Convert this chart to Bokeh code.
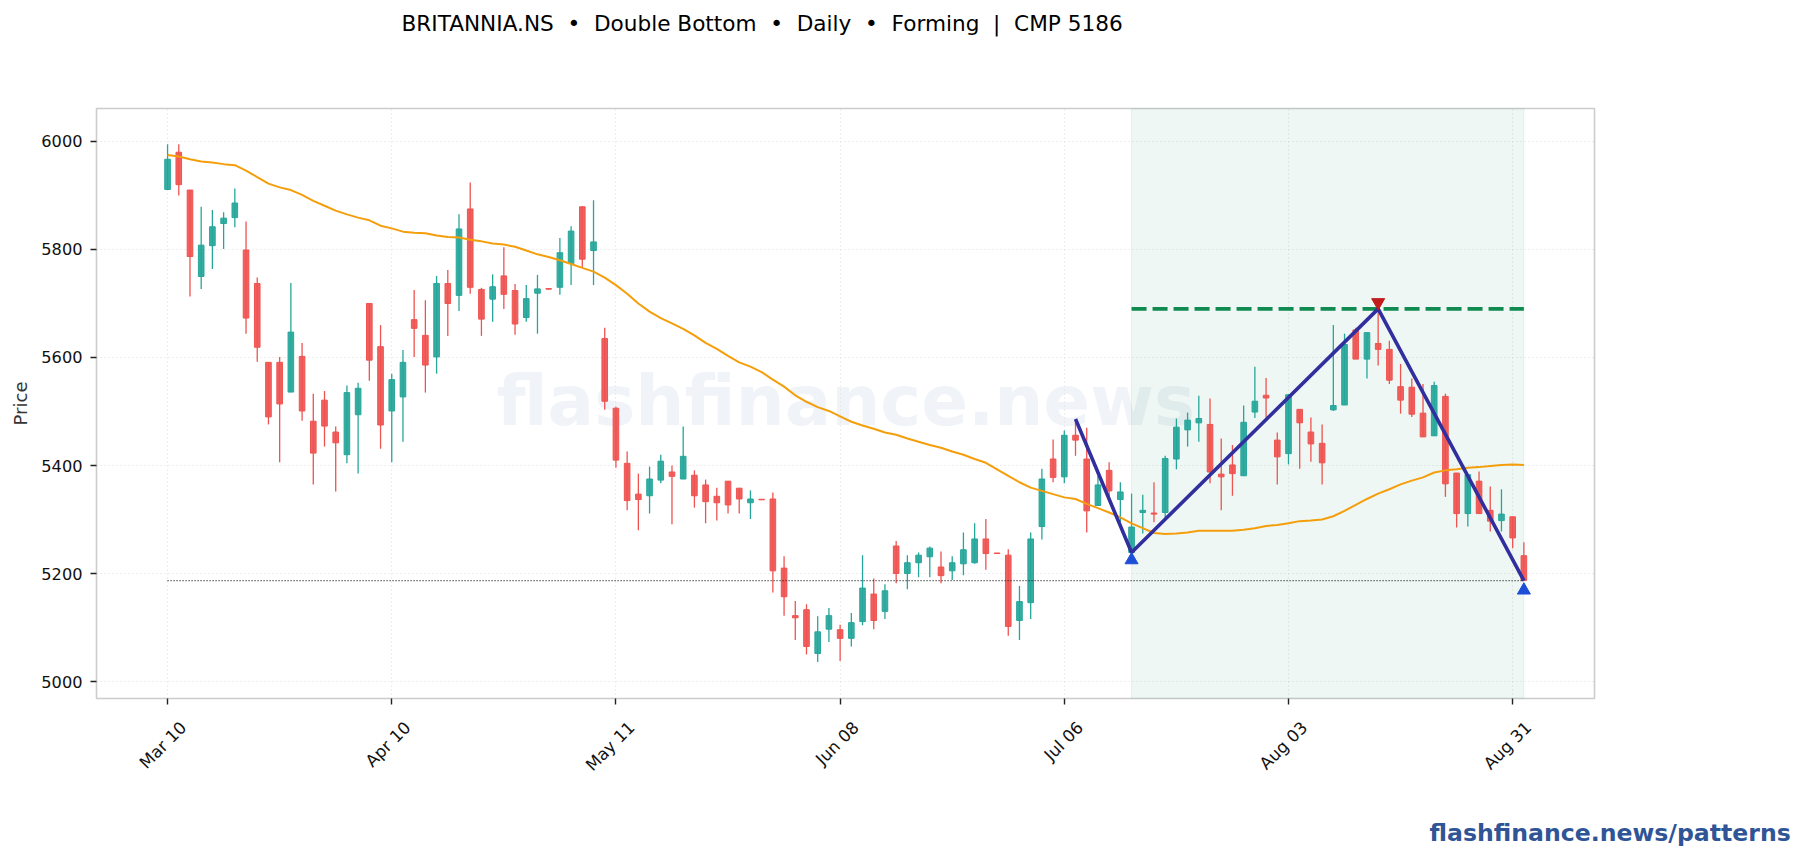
from math import pi
from bokeh.plotting import figure
from bokeh.embed import file_html
from bokeh.resources import INLINE
from bokeh.models import ColumnDataSource, Title, FixedTicker, BoxAnnotation, LinearAxis
from bokeh.core.properties import value

title_text = "BRITANNIA.NS \u00a0\u2022\u00a0 Double Bottom \u00a0\u2022\u00a0 Daily \u00a0\u2022\u00a0 Forming \u00a0|\u00a0 CMP 5186"
footer_text = "flashfinance.news/patterns"
watermark_text = "flashfinance.news"

tick_idx = [0, 20, 40, 60, 80, 100, 120]
tick_labels = ["Mar 10", "Apr 10", "May 11", "Jun 08", "Jul 06", "Aug 03", "Aug 31"]
y_ticks = [5000, 5200, 5400, 5600, 5800, 6000]

opens = [5911,5980,5910,5750,5807,5848,5859,5799,5737,5591,
5591,5536,5602,5482,5521,5462,5420,5494,5700,5620,
5501,5527,5670,5641,5601,5737,5715,5875,5726,5708,
5751,5724,5674,5719,5727.5,5730,5774,5879,5798,5635,
5506,5404,5347,5344,5373,5388,5375,5382,5364,5343,
5371,5358,5331,5337.5,5338,5210,5122,5133,5052,5097,
5096,5080,5111,5162,5130,5251,5200,5220,5231,5212,
5205,5218,5220,5264,5238,5234,5113,5146,5287,5412,
5379,5456,5412,5326,5391,5337,5239,5313,5312,5313,
5412,5466,5479,5476,5384,5401,5381,5499,5530,5447,
5422,5504,5462,5441,5503,5512,5651,5597,5626,5615,
5546,5545,5497,5455,5528,5386,5311,5371,5317,5298,
5305,5233]
closes = [5967,5920,5787,5808,5842,5858,5886,5673,5619,5490,
5514,5647,5501,5423,5473,5442,5535,5543,5595,5475,
5559,5591,5654,5586,5737,5700,5838,5730,5671,5731,
5717,5662,5709,5727,5726.5,5794,5834,5782,5814,5519,
5410,5335,5337,5375,5408,5380,5417,5344,5333,5331,
5327,5338,5338,5336.5,5205,5157,5118,5065,5092,5122,
5080,5109,5173,5113,5168,5200,5220,5234,5247,5196,
5220,5244,5264,5237,5237,5102,5148,5264,5375,5378,
5456,5447,5316,5364,5353,5351,5286,5317,5310,5413,
5471,5484,5487,5388,5379,5385,5480,5519,5525,5416,
5531,5479,5440,5405,5511,5624,5597,5646,5615,5558,
5521,5495,5453,5548,5366,5311,5383,5311,5297,5310,
5266,5187]
highs = [5995,5995,5910,5879,5873,5869,5913,5852,5748,5591,
5601,5738,5627,5533,5538,5472,5548,5553,5700,5660,
5570,5614,5725,5706,5751,5762,5865,5924,5729,5754,
5804,5736,5734,5753,5727.5,5821,5843,5880,5891,5655,
5509,5426,5385,5398,5420,5400,5472,5391,5374,5359,
5371,5358,5354,5337.5,5350,5232,5149,5143,5121,5136,
5105,5127,5234,5191,5180,5260,5234,5239,5250,5241,
5232,5276,5293,5301,5238,5245,5177,5276,5394,5448,
5465,5485,5470,5381,5406,5369,5348,5346,5369,5418,
5487,5498,5529,5524,5450,5438,5511,5583,5562,5461,
5532,5504,5489,5476,5660,5644,5655,5646,5692,5631,
5588,5561,5551,5555,5533,5386,5383,5389,5361,5356,
5305,5258]
lows = [5911,5900,5713,5727,5764,5801,5841,5644,5592,5476,
5406,5536,5483,5365,5435,5352,5404,5385,5557,5431,
5406,5444,5601,5535,5570,5640,5686,5718,5640,5666,
5690,5642,5666,5644,5726.5,5716,5734,5767,5734,5503,
5396,5317,5280,5311,5367,5291,5375,5322,5293,5298,
5311,5311,5301,5336.5,5165,5122,5077,5050,5036,5073,
5038,5065,5104,5097,5116,5182,5171,5193,5193,5182,
5188,5197,5218,5207,5237,5085,5077,5116,5263,5369,
5367,5418,5276,5326,5338,5295,5239,5274,5295,5302,
5393,5435,5444,5367,5317,5344,5381,5488,5489,5365,
5402,5394,5407,5365,5501,5512,5597,5561,5585,5551,
5496,5490,5453,5455,5342,5285,5287,5311,5278,5278,
5247,5187]
sma = [5975,5972,5967,5963,5961,5958,5956,5946,5934,5922,
5915,5910,5901,5890,5881,5872,5865,5859,5854,5844,
5839,5833,5831,5830,5826,5823,5822,5818,5815,5811,
5809,5805,5798,5791,5786,5780,5773,5766,5759,5748,
5734,5718,5700,5685,5673,5663,5653,5641,5627,5616,
5603,5591,5583,5573,5559,5546,5530,5518,5508,5501,
5491,5481,5474,5468,5461,5457,5450,5444,5438,5433,
5426,5420,5412,5405,5393,5381,5369,5359,5353,5347,
5341,5338,5329,5321,5313,5304,5293,5284,5275,5273,
5274,5276,5279,5279,5279,5279,5281,5284,5288,5290,
5293,5297,5298,5300,5306,5316,5327,5338,5348,5356,
5365,5372,5378,5387,5391,5393,5396,5397,5399,5401,
5402,5401]

pattern_idx = [81, 86, 108, 121]
pattern_price = [5486, 5239, 5690, 5187]
neckline = 5690
cmp_price = 5187
zone_start, zone_end = 86, 121
low_marker_idx = [86, 121]
low_marker_price = [5225, 5169]
top_marker_idx = [108]
top_marker_price = [5702]

idx = list(range(len(opens)))
UP, DOWN = "#26a69a", "#ef5350"
cols = [UP if c >= o else DOWN for o, c in zip(opens, closes)]
src = ColumnDataSource(dict(x=idx, o=opens, c=closes, h=highs, l=lows, col=cols))

p = figure(width=1804, height=860, output_backend="svg", toolbar_location=None,
           x_range=(-6.34, 127.3), y_range=(4968.6, 6061),
           min_border_left=96, min_border_right=210, min_border_top=108, min_border_bottom=162,
           frame_width=1498, frame_height=590, background_fill_color="white",
           border_fill_color="white")

p.outline_line_color = "#cccccc"
p.outline_line_width = 1.6

for ax in (p.xaxis[0], p.yaxis[0]):
    ax.axis_line_color = None
    ax.major_tick_line_color = "#222222"
    ax.major_tick_line_width = 1.4
    ax.major_tick_out = 6
    ax.major_tick_in = 0
    ax.minor_tick_line_color = None
    ax.major_label_text_font = "DejaVu Sans"
    ax.major_label_text_font_size = "16.2px"
    ax.major_label_text_color = "#111111"

p.xaxis[0].ticker = FixedTicker(ticks=tick_idx)
p.xaxis[0].major_label_text_font_size = "0px"
p.xaxis[0].major_label_text_color = None
p.yaxis[0].ticker = FixedTicker(ticks=y_ticks)
p.yaxis[0].major_label_standoff = 8
p.yaxis[0].axis_label = "Price"
p.yaxis[0].axis_label_text_font = "DejaVu Sans"
p.yaxis[0].axis_label_text_font_size = "18px"
p.yaxis[0].axis_label_text_font_style = "normal"
p.yaxis[0].axis_label_text_color = "#333333"
p.yaxis[0].axis_label_standoff = 7

# second lower axis carries the date labels, shifted so the rotated text centres under each tick
LABEL_SHIFT = 1.4
label_ticks = [t + LABEL_SHIFT for t in tick_idx]
date_axis = LinearAxis(ticker=FixedTicker(ticks=label_ticks),
                       major_label_overrides={t: s for t, s in zip(label_ticks, tick_labels)},
                       major_label_orientation=pi / 4, major_label_standoff=14,
                       major_tick_line_color=None, minor_tick_line_color=None, axis_line_color=None,
                       major_label_text_font="DejaVu Sans", major_label_text_font_size="16.7px",
                       major_label_text_color="#111111")
p.add_layout(date_axis, "below")

for g in (p.xgrid[0], p.ygrid[0]):
    g.grid_line_color = "#dddddd"
    g.grid_line_width = 1
    g.grid_line_dash = "1 3"
p.xgrid[0].ticker = FixedTicker(ticks=tick_idx)
p.ygrid[0].ticker = FixedTicker(ticks=y_ticks)

# shaded pattern zone
p.add_layout(BoxAnnotation(left=zone_start, right=zone_end, fill_color="#0f8a50", fill_alpha=0.07,
                           line_color="#0f8a50", line_alpha=0.08, line_width=1, level="underlay"))

# watermark
p.text(x=[60.5], y=[5520], text=[watermark_text], text_font=value("DejaVu Sans"),
       text_font_style="bold", text_font_size="69px", text_color="#2f5597", text_alpha=0.07,
       text_align="center", text_baseline="middle", level="underlay")

# candles
p.segment("x", "h", "x", "l", source=src, line_color="col", line_width=1.3)
p.vbar("x", 0.5, "o", "c", source=src, fill_color="col", line_color="col", fill_alpha=0.92, line_width=1)

# moving average
p.line(idx, sma, line_color="#f59e0b", line_width=2)

# current price
p.line([idx[0], idx[-1]], [cmp_price, cmp_price], line_color="#222222", line_width=1.3, line_dash="1 2")

# neckline
p.line([zone_start, zone_end], [neckline, neckline], line_color="#0f8a50", line_width=3.6, line_dash="15 6")

# pattern
p.line(pattern_idx, pattern_price, line_color="#312e9e", line_width=3.6)
p.scatter(low_marker_idx, low_marker_price, marker="triangle", size=13, fill_color="#1d4ed8", line_color="#1d4ed8")
p.scatter(top_marker_idx, top_marker_price, marker="inverted_triangle", size=13, fill_color="#c01c1c", line_color="#c01c1c")

# the empty title holds the chart title up above the frame
p.add_layout(Title(text=" ", standoff=70, text_font_size="1px"), "above")
p.add_layout(Title(text=title_text, align="left", offset=305, standoff=0,
                   text_font="DejaVu Sans", text_font_size="21.6px", text_font_style="normal",
                   text_color="#000000"), "above")
p.add_layout(Title(text=footer_text, align="left", offset=1333, standoff=65,
                   text_font="DejaVu Sans", text_font_style="bold", text_font_size="23.6px",
                   text_color="#2f5597"), "below")

open("out.html", "w").write(file_html(p, INLINE))
